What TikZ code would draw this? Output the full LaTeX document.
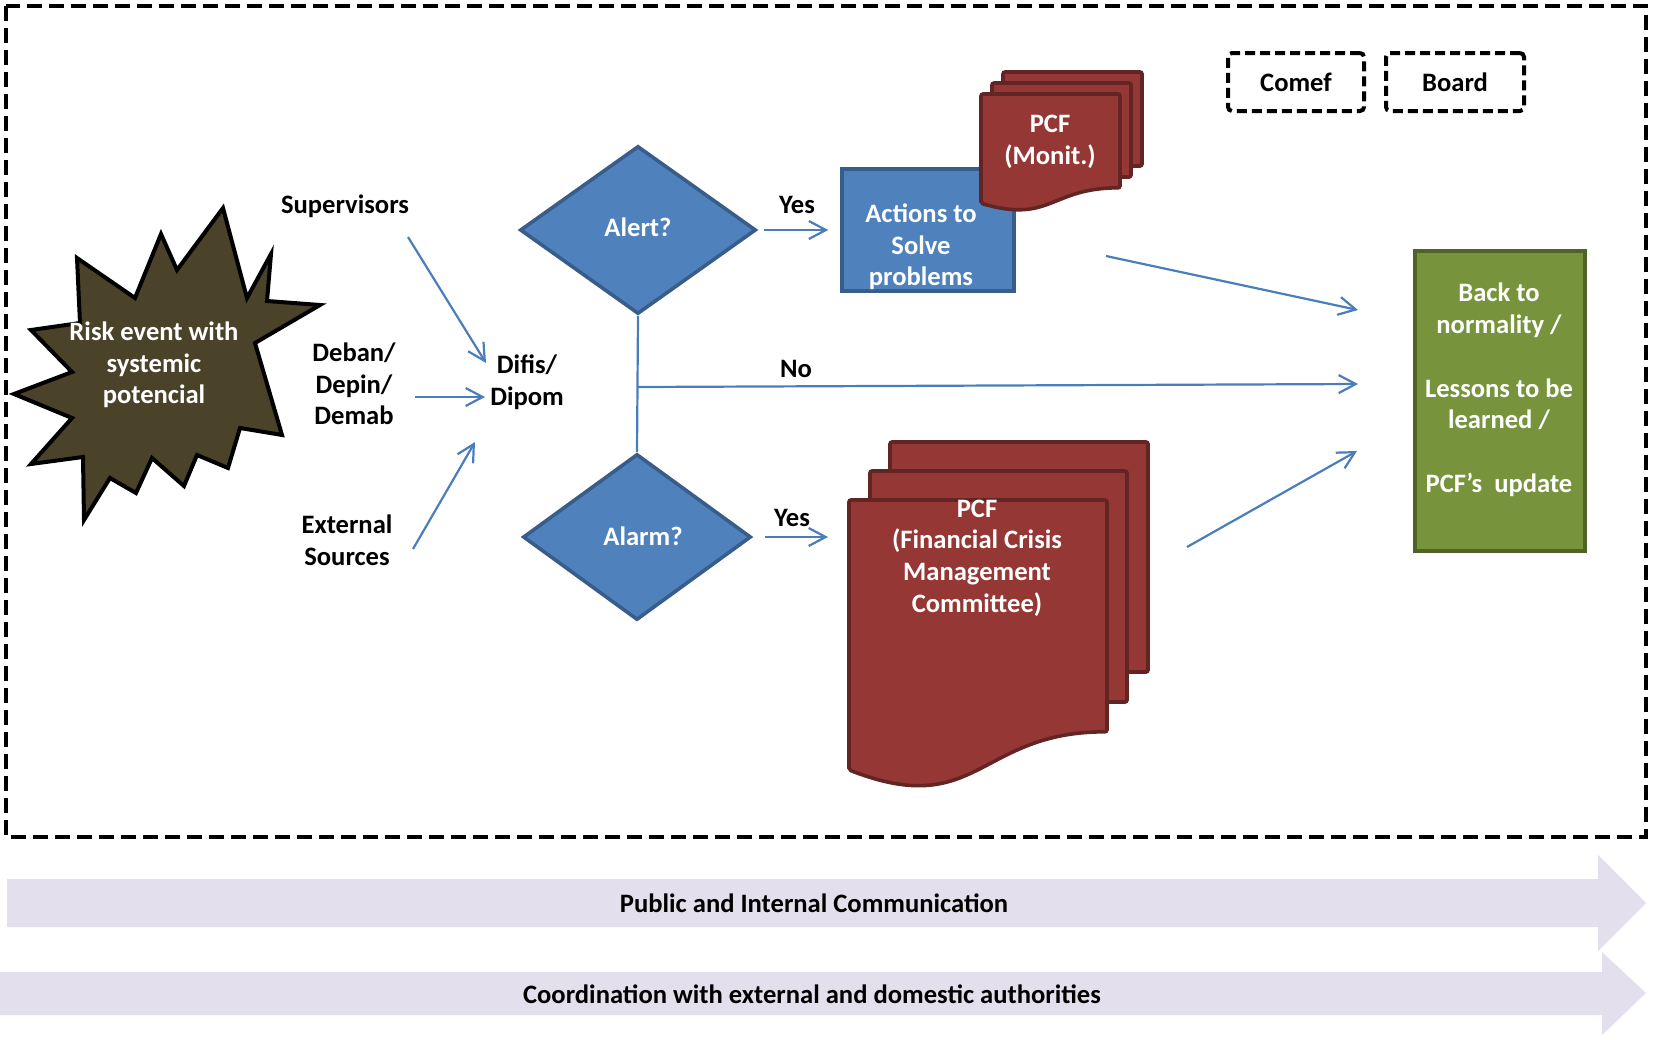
\documentclass[tikz,border=0pt]{standalone}
\usepackage{fontspec}
\setmainfont{Carlito}
\usetikzlibrary{arrows.meta,shapes.geometric}

\definecolor{flowblue}{HTML}{4F81BD}
\definecolor{flowblueedge}{HTML}{385D8A}
\definecolor{arrowblue}{HTML}{4A7EBB}
\definecolor{docred}{HTML}{953735}
\definecolor{docrededge}{HTML}{632523}
\definecolor{okgreen}{HTML}{77933C}
\definecolor{okgreenedge}{HTML}{4F6228}
\definecolor{burstfill}{HTML}{4A4229}
\definecolor{bannerfill}{HTML}{E4DFEC}

% document outline with a wavy lower edge: left, top, width, nominal height
\newcommand\wavedoc[4]{(#1,#2) -- ({#1+#3},#2) -- ({#1+#3},{#2+0.802*#4})
  .. controls ({#1+0.5*#3},{#2+0.802*#4}) and ({#1+0.5*#3},{#2+1.1075*#4}) .. (#1,{#2+0.934*#4}) -- cycle}

\begin{document}
\begin{tikzpicture}[x=0.5pt,y=-0.5pt,
  every node/.style={font=\bfseries\fontsize{13.3}{15.8}\selectfont, align=center, inner sep=0pt},
  whitetext/.style={text=white},
  flowarrow/.style={draw=arrowblue, line width=1.1pt, -{Straight Barb[length=8.5pt,width=9pt,line width=1.1pt]}},
  flowline/.style={draw=arrowblue, line width=1.1pt},
  decision/.style={diamond, aspect=1.4, fill=flowblue, draw=flowblueedge, line width=1.8pt, text=white},
  docshape/.style={fill=docred, draw=docrededge, line width=1.8pt, rounded corners=1pt},
  dashbox/.style={draw=black, line width=2pt, dash pattern=on 5pt off 2.5pt, rounded corners=2pt},
  banner/.style={fill=bannerfill, draw=none}]

\useasboundingbox (0,0) rectangle (1653,1039);

% outer dashed frame
\draw[line width=2pt, dash pattern=on 7.5pt off 3.5pt] (6,6) rectangle (1646,837);

% bottom banners
\path[banner] (7,879) -- (1598,879) -- (1598,855) -- (1646,903) -- (1598,951) -- (1598,927) -- (7,927) -- cycle;
\node (comm) at (814,903) {Public and Internal Communication};
\path[banner] (0,972) -- (1602,972) -- (1602,952) -- (1646,993) -- (1602,1035) -- (1602,1015) -- (0,1015) -- cycle;
\node (coord) at (812,994) {Coordination with external and domestic authorities};

% risk event burst
\draw[fill=burstfill, line width=2pt, line join=miter]
  (223,208) -- (247,298) -- (271,254) -- (267,301) -- (320,305) -- (255,343)
  -- (282,435) -- (240,428) -- (228,468) -- (197,455) -- (184,486) -- (152,458)
  -- (136,493) -- (110,478) -- (84,520) -- (83,457) -- (31,464) -- (72,418)
  -- (14,394) -- (72,372) -- (31,330) -- (80,323) -- (77,258) -- (135,298)
  -- (161,234) -- (177,270) -- cycle;
\node[whitetext] (risk) at (154,365) {Risk event with\\systemic\\potencial};

% information sources
\node (sup) at (345,206) {Supervisors};
\node (deban) at (354,384) {Deban/\\Depin/\\Demab};
\node (ext) at (347,540) {External\\Sources};
\node (difis) at (527,382) {Difis/\\Dipom};

\coordinate (supA) at (408,237);  \coordinate (supB) at (486,363);
\coordinate (debA) at (415,397);  \coordinate (debB) at (485,397);
\coordinate (extA) at (413,549);  \coordinate (extB) at (475,442);
\draw[flowarrow] (supA) -- (supB);
\draw[flowarrow] (debA) -- (debB);
\draw[flowarrow] (extA) -- (extB);

% decisions
\node[decision, minimum width=118pt, minimum height=84pt] (alert) at (638,230) {};
\node[whitetext] (alerttext) at (638,227) {Alert?};
\node[decision, minimum width=114pt, minimum height=83pt] (alarm) at (637,537) {};
\node[whitetext] (alarmtext) at (643,536) {Alarm?};
\draw[flowline] (alert.south) -- (alarm.north);

% actions box
\node[fill=flowblue, draw=flowblueedge, line width=1.8pt, minimum width=86pt, minimum height=61pt] (actions) at (928,230) {};
\node[whitetext] (actionstext) at (921,247) {Actions to\\Solve\\problems};

% monitoring documents
\draw[docshape] (1003,72) rectangle (1142,166);
\draw[docshape] (992,83) rectangle (1131,177);
\draw[docshape] \wavedoc{981}{94}{139}{117};
\node[whitetext] (monit) at (1050,142) {PCF\\(Monit.)};

% crisis committee documents
\draw[docshape] (890,442) rectangle (1148,672);
\draw[docshape] (870,471) rectangle (1127,702);
\draw[docshape] \wavedoc{849}{500}{258}{289};
\node[whitetext] (crisis) at (977,558) {PCF\\(Financial Crisis\\Management\\Committee)};

% yes branches
\node (yesA) at (797,205) {Yes};
\node (yesB) at (792,518) {Yes};
\coordinate (alarmA) at (765,537); \coordinate (alarmB) at (828,537);
\draw[flowarrow, shorten <=3pt, shorten >=6pt] (alert.east) -- (actions.west);
\draw[flowarrow] (alarmA) -- (alarmB);

% no branch
\node (no) at (796,369) {No};
\coordinate (noA) at (638,387); \coordinate (noB) at (1358,384);
\draw[flowarrow] (noA) -- (noB);

% outcome box
\node[fill=okgreen, draw=okgreenedge, line width=2pt, minimum width=85pt, minimum height=150pt] (normal) at (1499.5,401) {};
\node[whitetext] (normaltext) at (1499,390) {Back to\\normality /\\[16.2pt]Lessons to be\\learned /\\[16.2pt]PCF’s\ \ update};

\coordinate (actA) at (1106,256); \coordinate (actB) at (1358,310);
\coordinate (criA) at (1187,547); \coordinate (criB) at (1357,451);
\draw[flowarrow] (actA) -- (actB);
\draw[flowarrow] (criA) -- (criB);

% committees
\node[dashbox, minimum width=68pt, minimum height=29pt] (comef) at (1296,82) {Comef};
\node[dashbox, minimum width=69pt, minimum height=29pt] (board) at (1455,82) {Board};

\end{tikzpicture}
\end{document}
